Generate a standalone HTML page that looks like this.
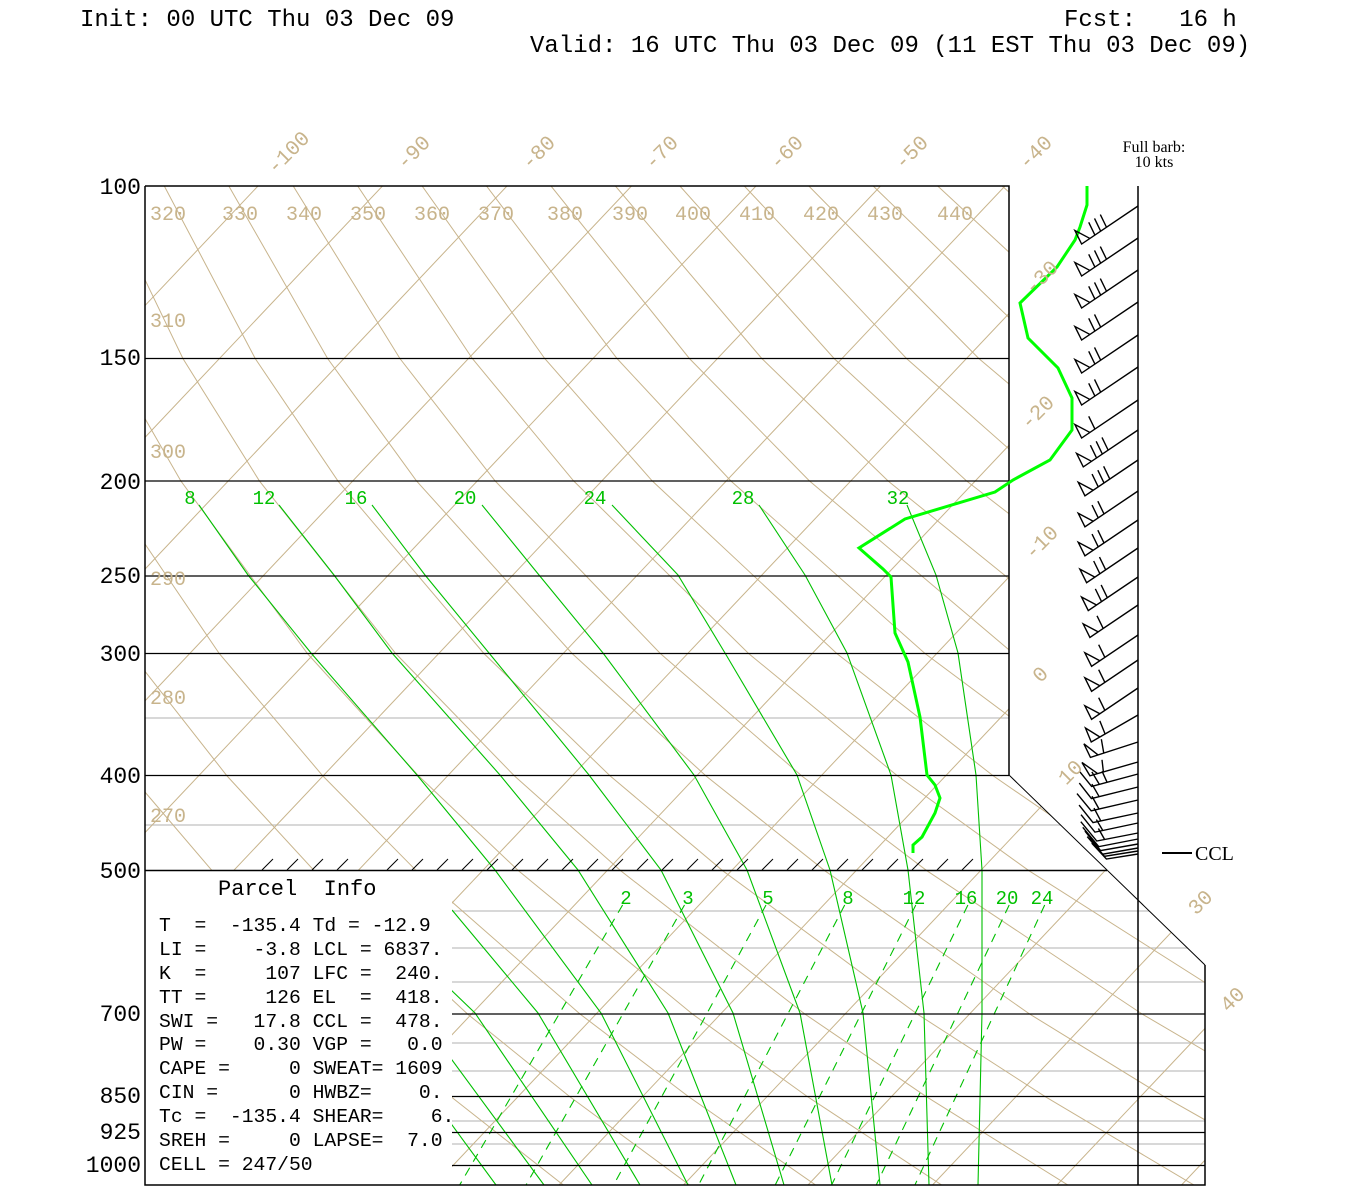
<!DOCTYPE html>
<html><head><meta charset="utf-8"><style>
html,body{margin:0;padding:0;background:#fff;}
svg{display:block;}
text{font-family:"Liberation Mono",monospace;}
</style></head><body>
<svg width="1350" height="1200" viewBox="0 0 1350 1200" xmlns="http://www.w3.org/2000/svg">
<defs>
<clipPath id="cp"><polygon points="145,186 1009,186 1009,775 1205,965 1205,1185 452,1185 452,870 145,870"/></clipPath>
</defs>
<rect width="1350" height="1200" fill="#fff"/>
<g clip-path="url(#cp)" fill="none">
<g stroke="#c0c0c0" stroke-width="1.3">
<path d="M145,718H1210M145,825H1210M452,911H1210M452,948H1210M452,982H1210M452,1043H1210M452,1071H1210M452,1121H1210M452,1144H1210"/>
</g>
<g stroke="#c8b48c" stroke-width="1">
<path d="M258,186l-944,999M382.5,186l-944,999M507,186l-944,999M631.5,186l-944,999M756,186l-944,999M880.5,186l-944,999M1005,186l-944,999M1129.5,186l-944,999M1254,186l-944,999M1378.5,186l-944,999M1503,186l-944,999M1627.5,186l-944,999M1752,186l-944,999M1876.5,186l-944,999M2001,186l-944,999M2125.5,186l-944,999"/>
<path d="M-222.3,186L-178.9,358.5L-133.5,480.9L-45.5,653.5L35.4,775.9L110.1,870.8L242.7,1014L332,1096.6L439,1186.5"/>
<path d="M-157.9,186L-106.5,358.5L-54.9,480.9L42.7,653.5L131.2,775.9L212.2,870.8L355.1,1014L450.8,1096.6L565.2,1186.5"/>
<path d="M-93.4,186L-34.2,358.5L23.6,480.9L131,653.5L227,775.9L314.3,870.8L467.5,1014L569.7,1096.6L691.5,1186.5"/>
<path d="M-29,186L38.2,358.5L102.2,480.9L219.2,653.5L322.8,775.9L416.4,870.8L580,1014L688.5,1096.6L817.7,1186.5"/>
<path d="M35.5,186L110.5,358.5L180.8,480.9L307.4,653.5L418.6,775.9L518.5,870.8L692.4,1014L807.4,1096.6L943.9,1186.5"/>
<path d="M99.9,186L182.9,358.5L259.4,480.9L395.7,653.5L514.4,775.9L620.7,870.8L804.8,1014L926.2,1096.6L1070.2,1186.5"/>
<path d="M164.3,186L255.2,358.5L337.9,480.9L483.9,653.5L610.1,775.9L722.8,870.8L917.2,1014L1045.1,1096.6L1196.4,1186.5"/>
<path d="M228.8,186L327.6,358.5L416.5,480.9L572.1,653.5L705.9,775.9L824.9,870.8L1029.6,1014L1163.9,1096.6L1322.7,1186.5"/>
<path d="M293.2,186L399.9,358.5L495.1,480.9L660.3,653.5L801.7,775.9L927,870.8L1142.1,1014L1282.8,1096.6L1448.9,1186.5"/>
<path d="M357.7,186L472.3,358.5L573.6,480.9L748.6,653.5L897.5,775.9L1029.1,870.8L1254.5,1014"/>
<path d="M422.1,186L544.7,358.5L652.2,480.9L836.8,653.5L993.3,775.9L1131.2,870.8L1366.9,1014"/>
<path d="M486.5,186L617,358.5L730.8,480.9L925,653.5L1089.1,775.9L1233.3,870.8"/>
<path d="M551,186L689.4,358.5L809.4,480.9L1013.3,653.5L1184.9,775.9"/>
<path d="M615.4,186L761.8,358.5L888,480.9L1101.5,653.5L1280.7,775.9"/>
<path d="M679.9,186L834.1,358.5L966.5,480.9L1189.7,653.5"/>
<path d="M744.3,186L906.5,358.5L1045.1,480.9L1277.9,653.5"/>
<path d="M808.8,186L978.8,358.5L1123.7,480.9"/>
<path d="M873.2,186L1051.2,358.5L1202,480.9"/>
<path d="M937.7,186L1123.6,358.5"/>
<path d="M1002.1,186L1196,358.5"/>
</g>
<g stroke="#00c000" stroke-width="1.1">
<path d="M199,505L248,575L311,653L417,775L495,870L601,1013L688,1185"/>
<path d="M279,505L334,575L392,653L500,775L578,870L668,1013L736,1185"/>
<path d="M372,505L425,575L489,653L589,775L661,870L733,1013L784,1185"/>
<path d="M482,505L539,575L603,653L694,775L747,870L800,1013L832,1185"/>
<path d="M612,505L678,575L725,653L797,775L830,870L863,1013L880,1185"/>
<path d="M759,505L805,575L847,653L891,775L908,870L924,1013L929,1185"/>
<path d="M907,505L936,575L958,653L976,775L982,870L982,1013L978,1185"/>
<path d="M452,910L538,1013L640,1185"/>
<path d="M420,960L475,1013L592,1185"/>
<path d="M420,1017L452,1060L544,1185"/>
<path d="M420,1085L452,1125L496,1185"/>
</g>
<g stroke="#00c000" stroke-width="1.1" stroke-dasharray="9,7">
<path d="M622.6,905L458.5,1187"/>
<path d="M684.5,905L524.9,1187"/>
<path d="M766,905L612.5,1187"/>
<path d="M844.7,905L697.5,1187"/>
<path d="M915.8,905L774.2,1187"/>
<path d="M967.9,905L830.6,1187"/>
<path d="M1009.2,905L875.3,1187"/>
<path d="M1044.7,905L914,1187"/>
</g>
</g>
<g fill="none" stroke="#000">
<path stroke-width="1.3" d="M145,358.5H1009M145,481H1009M145,576H1009M145,653.5H1009M145,775.5H1009M452,1014H1205M452,1096.5H1205M452,1132.5H1205M452,1165.5H1205"/>
<path stroke-width="1.5" d="M145,870.5H1107"/>
<path stroke-width="1.5" d="M145,186H1009V775"/>
<path stroke-width="1" d="M1009,775L1205,965"/>
<path stroke-width="1.5" d="M1205,965V1185H145V186M1138,186V1185"/>
<path stroke-width="1" d="M262,870l11,-11M287,870l11,-11M312,870l11,-11M337,870l11,-11M387,870l11,-11M412,870l11,-11M437,870l11,-11M462,870l11,-11M487,870l11,-11M512,870l11,-11M537,870l11,-11M562,870l11,-11M587,870l11,-11M612,870l11,-11M637,870l11,-11M662,870l11,-11M687,870l11,-11M712,870l11,-11M737,870l11,-11M762,870l11,-11M787,870l11,-11M812,870l11,-11M837,870l11,-11M862,870l11,-11M887,870l11,-11M912,870l11,-11M937,870l11,-11M962,870l11,-11"/>
</g>
<path fill="none" stroke="#00ff00" stroke-width="3" d="M1087,186L1087,205L1080,227L1075,240L1057,267L1020,303L1028,338L1058,368L1072,398L1072,430L1050,460L1013,480L995,492L905,519L859,548L883,569L891,577L895,633L908,662L920,717L927,775L935,785L940,798L935,813L922,837L913,845L913,853"/>
<g fill="none" stroke="#000" stroke-width="1.4">
<g transform="translate(1138,206) rotate(-34)"><path d="M0,0H-68L-66,-15L-58,0M-52,0l2,-14M-45,0l2,-14M-38,0l2,-14"/></g>
<g transform="translate(1138,238) rotate(-34)"><path d="M0,0H-68L-66,-15L-58,0M-52,0l2,-14M-45,0l2,-14M-38,0l2,-14"/></g>
<g transform="translate(1138,270) rotate(-34)"><path d="M0,0H-68L-66,-15L-58,0M-52,0l2,-14M-45,0l2,-14M-38,0l2,-14"/></g>
<g transform="translate(1138,302) rotate(-34)"><path d="M0,0H-68L-66,-15L-58,0M-52,0l2,-14M-45,0l2,-14"/></g>
<g transform="translate(1138,335) rotate(-34)"><path d="M0,0H-68L-66,-15L-58,0M-52,0l2,-14M-45,0l2,-14"/></g>
<g transform="translate(1138,367) rotate(-34)"><path d="M0,0H-68L-66,-15L-58,0M-52,0l2,-14M-45,0l2,-14"/></g>
<g transform="translate(1138,400) rotate(-34)"><path d="M0,0H-68L-66,-15L-58,0M-52,0l2,-14"/></g>
<g transform="translate(1138,430) rotate(-34)"><path d="M0,0H-66L-64,-15L-56,0M-50,0l2,-14M-43,0l2,-14M-36,0l2,-14"/></g>
<g transform="translate(1138,460) rotate(-34)"><path d="M0,0H-64L-62,-15L-54,0M-48,0l2,-14M-41,0l2,-14M-34,0l2,-14"/></g>
<g transform="translate(1138,491) rotate(-34)"><path d="M0,0H-64L-62,-15L-54,0M-48,0l2,-14M-41,0l2,-14"/></g>
<g transform="translate(1138,520) rotate(-34)"><path d="M0,0H-64L-62,-15L-54,0M-48,0l2,-14M-41,0l2,-14"/></g>
<g transform="translate(1138,548) rotate(-34)"><path d="M0,0H-62L-60,-15L-52,0M-46,0l2,-14M-39,0l2,-14"/></g>
<g transform="translate(1138,577) rotate(-34)"><path d="M0,0H-60L-58,-15L-50,0M-44,0l2,-14M-37,0l2,-14"/></g>
<g transform="translate(1138,605) rotate(-34)"><path d="M0,0H-58L-56,-15L-48,0M-42,0l2,-14"/></g>
<g transform="translate(1138,635) rotate(-34)"><path d="M0,0H-56L-54,-15L-46,0M-40,0l2,-14"/></g>
<g transform="translate(1138,660) rotate(-34)"><path d="M0,0H-56L-54,-15L-46,0M-40,0l2,-14"/></g>
<g transform="translate(1138,688) rotate(-34)"><path d="M0,0H-56L-54,-15L-46,0M-40,0l2,-14"/></g>
<g transform="translate(1138,715) rotate(-30)"><path d="M0,0H-54L-52,-15L-44,0M-38,0l2,-14"/></g>
<g transform="translate(1138,742) rotate(-18)"><path d="M0,0H-50L-52,-15L-42,0M-36,0l2,-14"/></g>
<g transform="translate(1138,762) rotate(-16)"><path d="M0,0H-50L-54,-15L-42,0M-36,0l2,-12"/></g>
<g transform="translate(1138,774) rotate(-15)"><path d="M0,0H-48L-56,-18M-40,0l-4,-14M-32,0l-2,-12"/></g>
<g transform="translate(1138,787) rotate(-14)"><path d="M0,0H-48L-56,-18M-40,0l-4,-14"/></g>
<g transform="translate(1138,800) rotate(-13)"><path d="M0,0H-48L-58,-20M-40,0l-4,-14"/></g>
<g transform="translate(1138,813) rotate(-12)"><path d="M0,0H-46L-56,-20M-38,0l-4,-14"/></g>
<g transform="translate(1138,823) rotate(-12)"><path d="M0,0H-44L-54,-20M-36,0l-4,-12"/></g>
<g transform="translate(1138,833) rotate(-11)"><path d="M0,0H-42L-54,-22M-34,0l-4,-12"/></g>
<g transform="translate(1138,839) rotate(-11)"><path d="M0,0H-40L-52,-22"/></g>
<g transform="translate(1138,844) rotate(-10)"><path d="M0,0H-38L-50,-22"/></g>
<g transform="translate(1138,848) rotate(-10)"><path d="M0,0H-36L-48,-20"/></g>
<g transform="translate(1138,851) rotate(-9)"><path d="M0,0H-34L-46,-20"/></g>
<g transform="translate(1138,854) rotate(-9)"><path d="M0,0H-32L-44,-18"/></g>
</g>
<g font-size="24" fill="#000">
<text x="80" y="26" xml:space="preserve">Init: 00 UTC Thu 03 Dec 09</text>
<text x="1064" y="26" xml:space="preserve">Fcst:   16 h</text>
<text x="530" y="52" xml:space="preserve">Valid: 16 UTC Thu 03 Dec 09 (11 EST Thu 03 Dec 09)</text>
</g>
<g font-size="23" fill="#000" text-anchor="end">
<text x="141" y="194">100</text><text x="141" y="365">150</text><text x="141" y="489">200</text>
<text x="141" y="583">250</text><text x="141" y="661">300</text><text x="141" y="783">400</text>
<text x="141" y="878">500</text><text x="141" y="1021">700</text><text x="141" y="1103">850</text>
<text x="141" y="1139">925</text><text x="141" y="1172">1000</text>
</g>
<g font-size="20" fill="#c8b48c" text-anchor="middle">
<text x="168" y="220">320</text><text x="240" y="220">330</text><text x="304" y="220">340</text>
<text x="368" y="220">350</text><text x="432" y="220">360</text><text x="496" y="220">370</text>
<text x="565" y="220">380</text><text x="630" y="220">390</text><text x="693" y="220">400</text>
<text x="757" y="220">410</text><text x="821" y="220">420</text><text x="885" y="220">430</text>
<text x="955" y="220">440</text>
<text x="168" y="327">310</text><text x="168" y="458">300</text><text x="168" y="585">290</text>
<text x="168" y="704">280</text><text x="168" y="822">270</text>
</g>
<g font-size="21" fill="#c8b48c" text-anchor="middle">
<text transform="translate(293,157) rotate(-45)">-100</text>
<text transform="translate(418,157) rotate(-45)">-90</text>
<text transform="translate(543,157) rotate(-45)">-80</text>
<text transform="translate(666,157) rotate(-45)">-70</text>
<text transform="translate(791,157) rotate(-45)">-60</text>
<text transform="translate(916,157) rotate(-45)">-50</text>
<text transform="translate(1040,157) rotate(-45)">-40</text>
<text transform="translate(1046,282) rotate(-45)">-30</text>
<text transform="translate(1042,417) rotate(-45)">-20</text>
<text transform="translate(1046,547) rotate(-45)">-10</text>
<text transform="translate(1045,679) rotate(-45)">0</text>
<text transform="translate(1075,777) rotate(-45)">10</text>
<text transform="translate(1205,907) rotate(-45)">30</text>
<text transform="translate(1237,1004) rotate(-45)">40</text>
</g>
<g font-size="19" fill="#00c000" text-anchor="middle">
<text x="190" y="504">8</text><text x="264" y="504">12</text><text x="356" y="504">16</text>
<text x="465" y="504">20</text><text x="595" y="504">24</text><text x="743" y="504">28</text>
<text x="898" y="504">32</text>
<text x="626" y="904">2</text><text x="688" y="904">3</text><text x="768" y="904">5</text>
<text x="848" y="904">8</text><text x="914" y="904">12</text><text x="966" y="904">16</text>
<text x="1007" y="904">20</text><text x="1042" y="904">24</text>
</g>
<g fill="#000">
<text x="1154" y="152" font-size="16" text-anchor="middle" style="font-family:'Liberation Serif',serif">Full barb:</text>
<text x="1154" y="167" font-size="16" text-anchor="middle" style="font-family:'Liberation Serif',serif">10 kts</text>
<text x="1195" y="860" font-size="20" style="font-family:'Liberation Serif',serif">CCL</text>
</g>
<line x1="1162" y1="853" x2="1192" y2="853" stroke="#000" stroke-width="2"/>
<g font-size="19.7" fill="#000">
<text x="218" y="895" font-size="22" xml:space="preserve">Parcel  Info</text>
<text x="159" y="931" xml:space="preserve">T  =  -135.4 Td = -12.9</text>
<text x="159" y="955" xml:space="preserve">LI =    -3.8 LCL = 6837.</text>
<text x="159" y="979" xml:space="preserve">K  =     107 LFC =  240.</text>
<text x="159" y="1003" xml:space="preserve">TT =     126 EL  =  418.</text>
<text x="159" y="1027" xml:space="preserve">SWI =   17.8 CCL =  478.</text>
<text x="159" y="1050" xml:space="preserve">PW =    0.30 VGP =   0.0</text>
<text x="159" y="1074" xml:space="preserve">CAPE =     0 SWEAT= 1609</text>
<text x="159" y="1098" xml:space="preserve">CIN =      0 HWBZ=    0.</text>
<text x="159" y="1122" xml:space="preserve">Tc =  -135.4 SHEAR=    6.</text>
<text x="159" y="1146" xml:space="preserve">SREH =     0 LAPSE=  7.0</text>
<text x="159" y="1170" xml:space="preserve">CELL = 247/50</text>
</g>
</svg>
</body></html>
